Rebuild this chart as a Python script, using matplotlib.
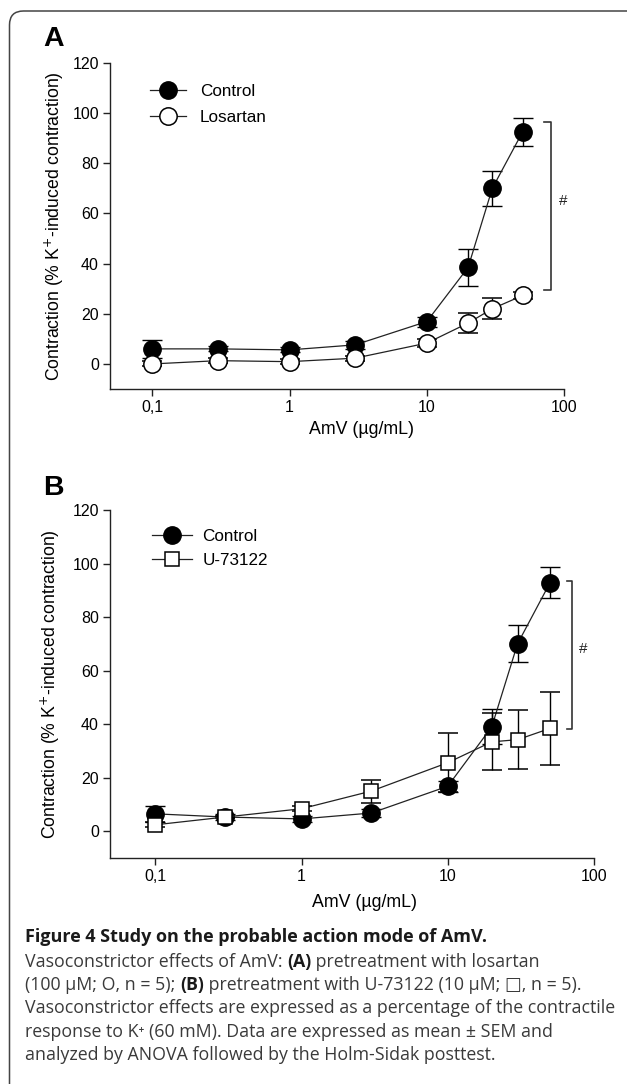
import matplotlib
matplotlib.use('Agg')
import matplotlib.pyplot as plt
from matplotlib.patches import FancyBboxPatch
from matplotlib.ticker import FixedLocator, FixedFormatter, NullLocator

plt.rcParams['font.family'] = ['Liberation Sans', 'DejaVu Sans']

# concentrations (ug/mL)
dose = [0.1, 0.3, 1, 3, 10, 20, 30, 50]

# panel A
ctrl_a = [6.0, 6.0, 5.6, 7.6, 16.9, 38.5, 70.0, 92.6]
ctrl_a_err = [3.5, 1.0, 1.0, 1.5, 2.0, 7.3, 6.9, 5.5]
losartan = [0.0, 1.3, 0.9, 2.3, 8.3, 16.3, 22.0, 27.3]
losartan_err = [1.0, 1.0, 1.0, 1.0, 1.5, 4.0, 4.2, 1.5]

# panel B
ctrl_b = [6.5, 5.3, 4.6, 6.8, 16.8, 39.0, 70.0, 92.8]
ctrl_b_err = [3.0, 1.0, 1.0, 1.5, 2.0, 6.5, 6.9, 5.8]
u73122 = [2.4, 5.3, 8.4, 15.0, 25.6, 33.4, 34.2, 38.4]
u73122_err = [1.0, 0.5, 1.0, 4.3, 11.0, 10.6, 11.0, 13.7]

xticks = [0.1, 1, 10, 100]
xticklabels = ['0,1', '1', '10', '100']
yticks = [0, 20, 40, 60, 80, 100, 120]

# significance brackets: (x_tick_start, x_line, y_top, y_bottom, x_hash, y_hash)
brk_a = [71.5, 80, 96.3, 29.6, 98, 65]
brk_b = [65.5, 71, 93.6, 38.2, 85, 68]

W, H = 627, 1084
fig = plt.figure(figsize=(W / 100, H / 100), dpi=100)

# rounded frame around the figure (right and bottom run off the page)
frame = FancyBboxPatch((0.095, -0.3), 7.0, 11.03,
                       boxstyle='round,pad=0,rounding_size=0.14',
                       transform=fig.dpi_scale_trans, fill=False,
                       edgecolor='#444444', linewidth=1.1, clip_on=False)
fig.patches.append(frame)


def px_axes(l, t, r, b):
    return [l / W, 1 - b / H, (r - l) / W, (b - t) / H]


def panel(rect, ctrl, ctrl_err, trt, trt_err, trt_marker, trt_label, brk,
          letter, letter_y, leg_anchor, leg_kw, xlab_xy, ylab_x):
    ax = fig.add_axes(rect)
    c1 = ax.errorbar(dose, ctrl, yerr=ctrl_err, fmt='-o', color='#222222',
                     lw=0.9, ms=12.5, mfc='black', mec='black', mew=1.0,
                     ecolor='black', elinewidth=1.0, capsize=7, capthick=1.0,
                     zorder=3)
    c2 = ax.errorbar(dose, trt, yerr=trt_err, fmt='-' + trt_marker,
                     color='#222222', lw=0.9,
                     ms=12.5 if trt_marker == 'o' else 10.5,
                     mfc='white', mec='black', mew=1.1,
                     ecolor='black', elinewidth=1.0, capsize=7, capthick=1.0,
                     zorder=4)
    ax.set_xscale('log')
    ax.set_xlim(0.049, 100)
    ax.set_ylim(-10, 120)
    ax.xaxis.set_major_locator(FixedLocator(xticks))
    ax.xaxis.set_major_formatter(FixedFormatter(xticklabels))
    ax.xaxis.set_minor_locator(NullLocator())
    ax.set_yticks(yticks)
    for s in ['top', 'right']:
        ax.spines[s].set_visible(False)
    for s in ['left', 'bottom']:
        ax.spines[s].set_linewidth(1.0)
        ax.spines[s].set_color('#222222')
    ax.tick_params(direction='out', length=5, width=1.0, labelsize=11.5,
                   colors='#222222', labelcolor='black', pad=3)
    ax.set_xlabel('AmV (\u00b5g/mL)', fontsize=12.8)
    ax.xaxis.set_label_coords(*xlab_xy)
    ax.set_ylabel('Contraction (% K$^{+}$-induced contraction)', fontsize=12.7)
    ax.yaxis.set_label_coords(ylab_x, 0.5)

    ax.legend([c1[0], c2[0]], ['Control', trt_label], loc='upper left',
              bbox_to_anchor=leg_anchor, frameon=False, fontsize=12.3,
              borderpad=0, borderaxespad=0, numpoints=1, **leg_kw)

    x0, x1, yt, yb, xh, yh = brk
    ax.plot([x0, x1, x1, x0], [yt, yt, yb, yb], color='#333333', lw=1.2,
            clip_on=False)
    ax.text(xh, yh, '#', fontsize=11, ha='center', va='center',
            color='#222222')

    fig.text(43 / W, 1 - letter_y / H, letter, fontsize=20.5,
             fontweight='bold', ha='left', va='center')
    return ax


panel(px_axes(110, 63, 564, 389), ctrl_a, ctrl_a_err, losartan, losartan_err,
      'o', 'Losartan', brk_a, 'A', 39, (0.088, 0.936),
      dict(handlelength=2.1, handletextpad=0.82, labelspacing=0.66),
      (0.553, -0.098), -0.098)
panel(px_axes(110, 510, 594, 858), ctrl_b, ctrl_b_err, u73122, u73122_err,
      's', 'U-73122', brk_b, 'B', 488, (0.087, 0.946),
      dict(handlelength=2.34, handletextpad=0.59, labelspacing=0.55),
      (0.525, -0.103), -0.100)

# caption with mixed bold runs (y values are baselines in pixels)
renderer = fig.canvas.get_renderer()
cap_font = ['Open Sans', 'DejaVu Sans']


def runs(x_px, y_px, parts, size):
    x = x_px
    for txt, bold in parts:
        t = fig.text(x / W, 1 - y_px / H, txt, fontsize=size,
                     family=cap_font,
                     fontweight='bold' if bold else 'normal',
                     color='#1a1a1a' if bold else '#3a3a3a',
                     ha='left', va='baseline')
        x += t.get_window_extent(renderer).width


caption = [
    (942, [('Figure 4 Study on the probable action mode of AmV.', True)]),
    (967, [('Vasoconstrictor effects of AmV: ', False), ('(A)', True),
           (' pretreatment with losartan', False)]),
    (990, [('(100 \u00b5M; O, n = 5); ', False), ('(B)', True),
           (' pretreatment with U-73122 (10 \u00b5M; \u25a1, n = 5).', False)]),
    (1013, [('Vasoconstrictor effects are expressed as a percentage of the contractile', False)]),
    (1037, [('response to K\u207a (60 mM). Data are expressed as mean \u00b1 SEM and', False)]),
    (1060, [('analyzed by ANOVA followed by the Holm-Sidak posttest.', False)]),
]
for i, (y, parts) in enumerate(caption):
    runs(25, y, parts, 13.0 if i == 0 else 12.75)

fig.savefig('out.png', dpi=100)
